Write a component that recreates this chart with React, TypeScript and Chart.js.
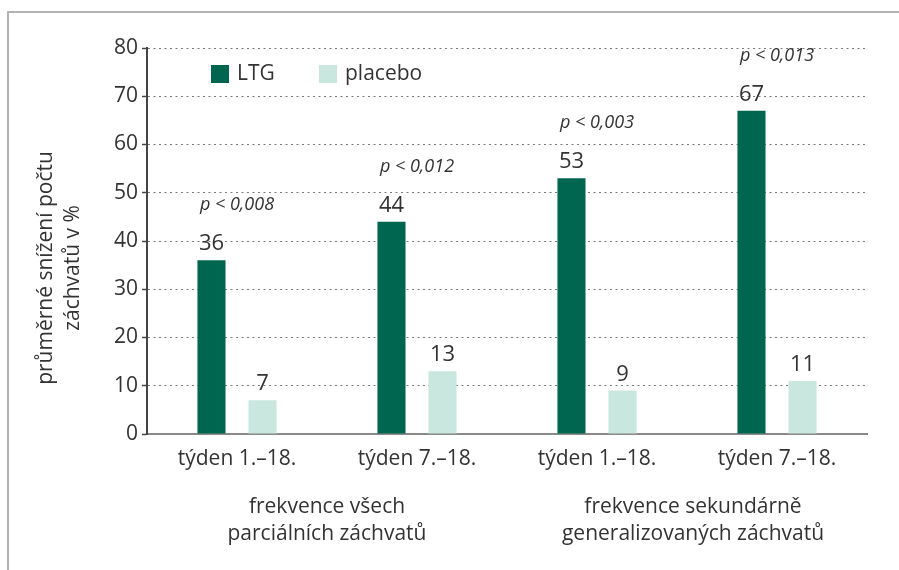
import React, { useEffect, useRef } from "react";
import { Chart, registerables } from "chart.js";

Chart.register(...registerables);

const categories = ["týden 1.–18.", "týden 7.–18.", "týden 1.–18.", "týden 7.–18."];
const ltgValues = [36, 44, 53, 67];
const placeboValues = [7, 13, 9, 11];
const valueLabelsLtg = ["36", "44", "53", "67"];
const valueLabelsPlacebo = ["7", "13", "9", "11"];
const pValues = ["p < 0,008", "p < 0,012", "p < 0,003", "p < 0,013"];
const groupLabels = [
  ["frekvence všech", "parciálních záchvatů"],
  ["frekvence sekundárně", "generalizovaných záchvatů"],
];
const groupSpans = [
  [0, 1],
  [2, 3],
];
const yTitle = ["průměrné snížení počtu", "záchvatů v %"];
const yTicks = [0, 10, 20, 30, 40, 50, 60, 70, 80];

const FONT = "'Open Sans', 'Noto Sans', sans-serif";
const TEXT = "#333333";
const LTG_COLOR = "#00664f";
const PLACEBO_COLOR = "#c9e6df";

const customPlugin = {
  id: "custom",
  beforeDraw(chart: any) {
    const ctx = chart.ctx;
    ctx.save();
    ctx.strokeStyle = "#b2b2b2";
    ctx.lineWidth = 2;
    ctx.beginPath();
    ctx.moveTo(8, chart.height);
    ctx.lineTo(8, 12);
    ctx.lineTo(chart.width, 12);
    ctx.stroke();
    ctx.restore();
  },
  afterDatasetsDraw(chart: any) {
    const ctx = chart.ctx;
    ctx.save();
    ctx.fillStyle = TEXT;
    ctx.textAlign = "center";
    ctx.textBaseline = "alphabetic";
    const labelSets = [valueLabelsLtg, valueLabelsPlacebo];
    chart.data.datasets.forEach((_ds: any, di: number) => {
      const meta = chart.getDatasetMeta(di);
      meta.data.forEach((bar: any, i: number) => {
        ctx.font = `22px ${FONT}`;
        ctx.fillText(labelSets[di][i], bar.x, bar.y - 10);
      });
    });
    const xScale = chart.scales.x;
    const ltgMeta = chart.getDatasetMeta(0);
    ctx.font = `italic 18px ${FONT}`;
    ctx.textBaseline = "middle";
    pValues.forEach((p, i) => {
      const bar = ltgMeta.data[i];
      ctx.fillText(p, xScale.getPixelForValue(i), bar.y - 55);
    });
    ctx.restore();
  },
  afterDraw(chart: any) {
    const ctx = chart.ctx;
    const xScale = chart.scales.x;
    const area = chart.chartArea;
    ctx.save();
    ctx.fillStyle = TEXT;
    // group labels
    ctx.font = `21px ${FONT}`;
    ctx.textAlign = "center";
    ctx.textBaseline = "middle";
    groupLabels.forEach((lines, gi) => {
      const [a, b] = groupSpans[gi];
      const cx = (xScale.getPixelForValue(a) + xScale.getPixelForValue(b)) / 2 + gi * 6;
      lines.forEach((ln, li) => {
        ctx.fillText(ln, cx, area.bottom + 73 + li * 27);
      });
    });
    // y title
    ctx.save();
    ctx.translate(59, (area.top + area.bottom) / 2 + 27);
    ctx.rotate(-Math.PI / 2);
    yTitle.forEach((ln, li) => {
      ctx.fillText(ln, 0, -13 + li * 27);
    });
    ctx.restore();
    // legend
    let lx = area.left + 64;
    const ly = area.top + 26;
    chart.data.datasets.forEach((ds: any) => {
      ctx.fillStyle = ds.backgroundColor;
      ctx.fillRect(lx, ly - 9, 18, 18);
      ctx.fillStyle = TEXT;
      ctx.textAlign = "left";
      ctx.font = `21px ${FONT}`;
      ctx.fillText(ds.label, lx + 26, ly);
      lx += 108;
    });
    ctx.restore();
  },
};

export default function App() {
  const ref = useRef<HTMLCanvasElement>(null);
  useEffect(() => {
    if (!ref.current) return;
    const chart = new Chart(ref.current, {
      type: "bar",
      data: {
        labels: categories,
        datasets: [
          {
            label: "LTG",
            data: ltgValues,
            backgroundColor: LTG_COLOR,
            categoryPercentage: 0.567,
            barPercentage: 0.55,
          },
          {
            label: "placebo",
            data: placeboValues,
            backgroundColor: PLACEBO_COLOR,
            categoryPercentage: 0.567,
            barPercentage: 0.55,
          },
        ],
      },
      options: {
        responsive: false,
        animation: false,
        layout: { padding: { top: 48, right: 32, left: 0, bottom: 0 } },
        plugins: {
          legend: { display: false },
          tooltip: { enabled: false },
        },
        scales: {
          x: {
            grid: { display: false },
            border: { display: true, color: "#8a8a8a", width: 2 },
            ticks: {
              font: { family: FONT, size: 21 },
              color: TEXT,
              padding: 4,
            },
            afterFit: (s: any) => {
              s.height = 136;
            },
          },
          y: {
            min: 0,
            max: 80,
            afterBuildTicks: (s: any) => {
              s.ticks = yTicks.map((v) => ({ value: v }));
            },
            ticks: {
              font: { family: FONT, size: 21 },
              color: TEXT,
              padding: 4,
            },
            grid: {
              color: "#7a7a7a",
              lineWidth: 1,
              tickLength: 5,
              tickColor: "#444444",
              tickWidth: 1.5,
            },
            border: { display: true, color: "#444444", width: 2, dash: [2, 3.5] },
            afterFit: (s: any) => {
              s.width = 147;
            },
          },
        },
      },
      plugins: [customPlugin],
    });
    return () => chart.destroy();
  }, []);
  return (
    <canvas
      ref={ref}
      width={899}
      height={570}
      style={{ position: "absolute", left: 0, top: 0, width: 899, height: 570 }}
    />
  );
}
